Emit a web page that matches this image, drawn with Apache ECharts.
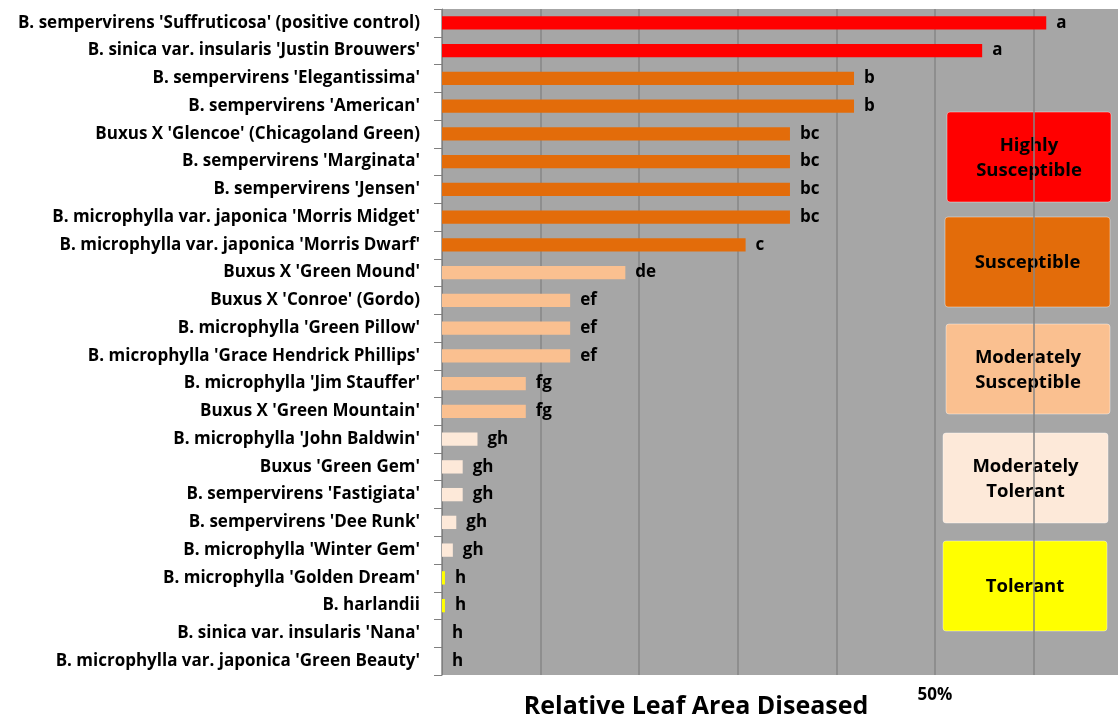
<!DOCTYPE html>
<html><head><meta charset="utf-8">
<script src="https://cdn.jsdelivr.net/npm/echarts@6/dist/echarts.min.js"></script>
<style>html,body{margin:0;padding:0;background:#fff}#c{width:1118px;height:719px}</style>
</head><body><div id="c"></div>
<script>
var categories = [
"B. sempervirens 'Suffruticosa' (positive control)",
"B. sinica var. insularis 'Justin Brouwers'",
"B. sempervirens 'Elegantissima'",
"B. sempervirens 'American'",
"Buxus X 'Glencoe' (Chicagoland Green)",
"B. sempervirens 'Marginata'",
"B. sempervirens 'Jensen'",
"B. microphylla var. japonica 'Morris Midget'",
"B. microphylla var. japonica 'Morris Dwarf'",
"Buxus X 'Green Mound'",
"Buxus X 'Conroe' (Gordo)",
"B. microphylla 'Green Pillow'",
"B. microphylla 'Grace Hendrick Phillips'",
"B. microphylla 'Jim Stauffer'",
"Buxus X 'Green Mountain'",
"B. microphylla 'John Baldwin'",
"Buxus 'Green Gem'",
"B. sempervirens 'Fastigiata'",
"B. sempervirens 'Dee Runk'",
"B. microphylla 'Winter Gem'",
"B. microphylla 'Golden Dream'",
"B. harlandii",
"B. sinica var. insularis 'Nana'",
"B. microphylla var. japonica 'Green Beauty'"
];
var values = [61.3, 54.8, 41.8, 41.8, 35.3, 35.3, 35.3, 35.3, 30.8, 18.6, 13.0, 13.0, 13.0, 8.5, 8.5, 3.6, 2.1, 2.1, 1.45, 1.1, 0.3, 0.3, 0, 0];
var letters = ["a","a","b","b","bc","bc","bc","bc","c","de","ef","ef","ef","fg","fg","gh","gh","gh","gh","gh","h","h","h","h"];
var groups = [0,0,1,1,1,1,1,1,1,2,2,2,2,2,2,3,3,3,3,3,4,4,4,4];
var groupNames = ["Highly\nSusceptible","Susceptible","Moderately\nSusceptible","Moderately\nTolerant","Tolerant"];
var groupColors = ["#ff0000","#e36c0a","#fac090","#fde9d9","#ffff00"];
var xTicks = {50: "50%"};

var FONT = "'Open Sans'";
var chart = echarts.init(document.getElementById('c'), null, {renderer:'canvas'});
var data = values.map(function(v,i){
  return {value:v, itemStyle:{color:groupColors[groups[i]]},
    label:{formatter:letters[i]}};
});
var boxes = [[947,112,164,90],[945,217,165,90],[946,324,164,90],[943,433,165,90],[943,541,164,90]];
var graphics = boxes.map(function(b,i){
  return {type:'group', children:[
    {type:'rect', shape:{x:b[0],y:b[1],width:b[2],height:b[3],r:3}, style:{fill:groupColors[i], stroke:'rgba(255,255,255,0.4)', lineWidth:1}},
    {type:'text', x:b[0]+b[2]/2, y:b[1]+b[3]/2+1, style:{text:groupNames[i], fill:'#000', font:'bold 18.5px '+FONT, align:'center', verticalAlign:'middle', lineHeight:25}}
  ]};
});
chart.setOption({
  animation:false,
  grid:{left:442, top:9, width:690, height:666, containLabel:false, outerBoundsMode:'none', show:true, backgroundColor:'#a6a6a6', borderWidth:0},
  xAxis:{type:'value', min:0, max:70, interval:10,
    axisLine:{show:false}, axisTick:{show:false},
    splitLine:{show:true, lineStyle:{color:'#868686', width:1.5}},
    axisLabel:{formatter:function(v){return xTicks[v]||'';}, margin:12, color:'#000', fontFamily:FONT, fontWeight:'bold', fontSize:17},
    name:'Relative Leaf Area Diseased', nameLocation:'middle', nameGap:19, nameMoveOverlap:false,
    nameTextStyle:{color:'#000', fontFamily:FONT, fontWeight:'bold', fontSize:25, padding:[0,182,0,0]}
  },
  yAxis:{type:'category', data:categories, inverse:true,
    axisLine:{show:true, lineStyle:{color:'#808080', width:1}},
    axisTick:{show:true, length:8, lineStyle:{color:'#808080'}},
    axisLabel:{margin:22, color:'#000', fontFamily:FONT, fontWeight:'bold', fontSize:17},
    splitLine:{show:false}
  },
  series:[{type:'bar', data:data, barWidth:'48%',
    label:{show:true, position:'right', distance:10, color:'#000', fontFamily:FONT, fontWeight:'bold', fontSize:17}
  }],
  graphic:graphics
});
</script></body></html>
